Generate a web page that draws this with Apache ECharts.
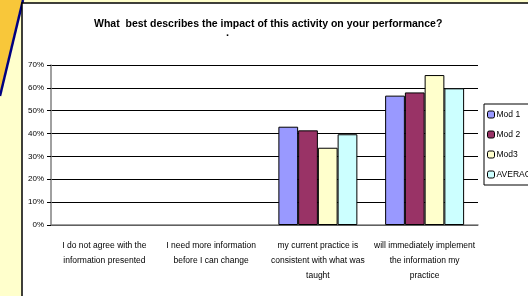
<!DOCTYPE html>
<html lang="en">
<head>
    <meta charset="UTF-8">
    <title>Impact chart</title>
    <style>
        *{
            margin: 0;
            padding: 0;
        }
        body{
            background: #ffffcc;
        }
        #box{
            width: 528px;
            height: 296px;
        }
    </style>
    <script src="https://cdn.jsdelivr.net/npm/echarts@6/dist/echarts.min.js"></script>
</head>
<body>
    <div id="box"></div>
    <script>
        // categories and values (percent)
        var categories = [
            'I do not agree with the\ninformation presented',
            'I need more information\nbefore I can change',
            'my current practice is\nconsistent with what was\ntaught',
            'will immediately implement\nthe information my\npractice'
        ];
        var mod1 = [0, 0, 43, 56.6];
        var mod2 = [0, 0, 41.4, 58];
        var mod3 = [0, 0, 33.8, 65.6];
        var average = [0, 0, 39.7, 59.8];
        var seriesNames = ['Mod 1', 'Mod 2', 'Mod3', 'AVERAGE'];
        var colors = ['#9999ff', '#993366', '#ffffcc', '#ccffff'];

        var font = '"Liberation Sans", Arial, sans-serif';

        var myChart = echarts.init(document.getElementById('box'));

        var allData = [mod1, mod2, mod3, average];
        var series = [];
        for (var i = 0; i < allData.length; i++) {
            series.push({
                name: seriesNames[i],
                type: 'bar',
                // zero bars get no outline, like the original
                data: allData[i].map(function (v) {
                    return { value: v, itemStyle: v ? {} : { borderWidth: 0 } };
                }),
                barGap: '0%',
                barCategoryGap: '26%',
                itemStyle: {
                    color: colors[i],
                    borderColor: '#000',
                    borderWidth: 1
                }
            });
        }

        var option = {
            animation: false,
            color: colors,
            graphic: [
                // orange corner
                {
                    type: 'polygon',
                    z: -10,
                    shape: { points: [[0, 0], [22, 0], [0, 94]] },
                    style: { fill: '#f8c73a' }
                },
                // blue edge
                {
                    type: 'line',
                    z: -9,
                    shape: { x1: 23, y1: 0, x2: 0, y2: 96 },
                    style: { stroke: '#000080', lineWidth: 2.5 }
                },
                // white panel
                {
                    type: 'rect',
                    z: -8,
                    shape: { x: 22, y: 3, width: 520, height: 300 },
                    style: { fill: '#fff', stroke: '#000', lineWidth: 1.5 }
                },
                {
                    type: 'text',
                    left: 226,
                    top: 27,
                    style: { text: '.', fill: '#000', font: 'bold 11px "Liberation Sans", Arial' }
                }
            ],
            title: {
                text: 'What  best describes the impact of this activity on your performance?',
                left: 94,
                top: 19,
                padding: 0,
                textStyle: {
                    fontFamily: font,
                    fontSize: 10.5,
                    fontWeight: 'bold',
                    color: '#000'
                }
            },
            legend: {
                orient: 'vertical',
                left: 484,
                top: 104,
                width: 80,
                padding: [6, 30, 6, 3],
                itemWidth: 7,
                itemHeight: 7,
                itemGap: 11,
                backgroundColor: '#fff',
                borderColor: '#000',
                borderWidth: 1,
                textStyle: {
                    fontFamily: font,
                    fontSize: 8.5,
                    color: '#000',
                    padding: [0, 0, 0, -3]
                },
                itemStyle: {
                    borderColor: '#000',
                    borderWidth: 1
                },
                data: seriesNames
            },
            grid: {
                left: 51,
                right: 50,
                top: 65,
                bottom: 71
            },
            xAxis: {
                type: 'category',
                data: categories,
                axisLine: { lineStyle: { color: '#808080', width: 1.5 } },
                axisTick: { show: false },
                axisLabel: {
                    interval: 0,
                    margin: 13,
                    fontFamily: font,
                    fontSize: 8.5,
                    lineHeight: 15,
                    color: '#000'
                }
            },
            yAxis: {
                type: 'value',
                min: 0,
                max: 70,
                interval: 10,
                axisLine: { show: true, lineStyle: { color: '#808080', width: 1.5 } },
                axisTick: { show: true, length: 4, lineStyle: { color: '#000' } },
                axisLabel: {
                    margin: 7,
                    formatter: '{value}%',
                    fontFamily: font,
                    fontSize: 8,
                    color: '#000'
                },
                splitLine: { lineStyle: { color: '#000', width: 1 } }
            },
            series: series
        };
        myChart.setOption(option);
    </script>
</body>
</html>
